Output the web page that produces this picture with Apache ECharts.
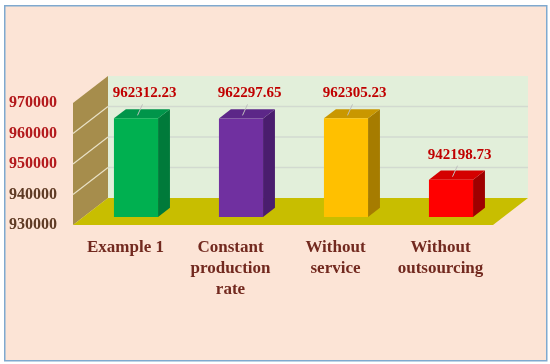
<!DOCTYPE html>
<html>
<head>
<meta charset="utf-8">
<script src="https://cdn.jsdelivr.net/npm/echarts@6/dist/echarts.min.js"></script>
<style>
html,body{margin:0;padding:0;background:#ffffff;}
#c{width:550px;height:364px;}
</style>
</head>
<body>
<div id="c"></div>
<script>
// ---- data ----
const categories = ['Example 1', 'Constant\nproduction\nrate', 'Without\nservice', 'Without\noutsourcing'];
const values = [962312.23, 962297.65, 962305.23, 942198.73];
const yTicks = [930000, 940000, 950000, 960000, 970000];

// ---- styles ----
const frontColors = ['#00B050', '#7030A0', '#FFC000', '#FF0000'];
const topColors   = ['#00954A', '#5C2788', '#C99700', '#D40000'];
const sideColors  = ['#007A3A', '#4A1D6E', '#A67C00', '#9E0000'];
const DEPTH = [35, -27];   // full floor depth (px)
const BAR_T0 = 0.3, BAR_T1 = 0.64;
const yMin = yTicks[0], yMax = yTicks[yTicks.length - 1];
const yStep = yTicks[1] - yTicks[0];

const chart = echarts.init(document.getElementById('c'), null, {renderer: 'canvas'});

function poly(points, fill, z2) {
  return {type: 'polygon', shape: {points: points}, style: {fill: fill, stroke: null}, z2: z2 || 0};
}

function renderWalls(params, api) {
  const cs = params.coordSys;
  const L = cs.x, R = cs.x + cs.width, T = cs.y, B = cs.y + cs.height;
  const dx = DEPTH[0], dy = DEPTH[1];
  const ch = [];
  // back wall
  ch.push(poly([[L + dx, T + dy], [R + dx, T + dy], [R + dx, B + dy], [L + dx, B + dy]], '#E2EFDA', 0));
  // side wall
  ch.push(poly([[L, B], [L, T], [L + dx, T + dy], [L + dx, B + dy]], '#A68D4C', 1));
  // floor
  ch.push(poly([[L, B], [L + dx, B + dy], [R + dx, B + dy], [R, B]], '#C8BE00', 2));
  // grid lines
  for (let k = 1; k < yTicks.length - 1; k++) {
    const y = api.coord([0, yTicks[k]])[1];
    ch.push({type: 'line', shape: {x1: L + dx, y1: y + dy, x2: R + dx, y2: y + dy},
      style: {stroke: '#D2DAD0', lineWidth: 1.5}, z2: 1});
    ch.push({type: 'line', shape: {x1: L, y1: y, x2: L + dx, y2: y + dy},
      style: {stroke: '#E9E1C6', lineWidth: 1.2}, z2: 3});
  }
  return {type: 'group', children: ch};
}

function renderBar(params, api) {
  const i = api.value(0), v = api.value(1);
  const topPt = api.coord([i, v]);
  const basePt = api.coord([i, yMin]);
  const band = api.size([1, 0])[0];
  const w = band * 0.42;
  const ox = DEPTH[0] * BAR_T0, oy = DEPTH[1] * BAR_T0;
  const ddx = DEPTH[0] * (BAR_T1 - BAR_T0), ddy = DEPTH[1] * (BAR_T1 - BAR_T0);
  const cx = topPt[0] + ox;
  const l = cx - w / 2, r = cx + w / 2;
  const t = topPt[1] + oy, b = basePt[1] + oy;
  const idx = params.dataIndex;
  const ch = [];
  ch.push(poly([[r, t], [r + ddx, t + ddy], [r + ddx, b + ddy], [r, b]], sideColors[idx], 10));
  ch.push(poly([[l, t], [r, t], [r + ddx, t + ddy], [l + ddx, t + ddy]], topColors[idx], 10));
  ch.push(poly([[l, t], [r, t], [r, b], [l, b]], frontColors[idx], 11));
  const lx = cx + 8.5, ly = t - 25;
  ch.push({type: 'line', shape: {x1: lx - 2, y1: ly + 11, x2: lx - 7, y2: ly + 22},
    style: {stroke: '#BFBFBF', lineWidth: 1}, z2: 12});
  ch.push({type: 'text', style: {text: v.toFixed(2), x: lx, y: ly, fill: '#C00000',
    font: 'bold 15px "Liberation Serif", "Times New Roman", serif', align: 'center', verticalAlign: 'middle'}, z2: 13});
  return {type: 'group', children: ch};
}

const option = {
  backgroundColor: '#ffffff',
  animation: false,
  graphic: [{
    type: 'rect', left: 4, top: 5, z: -10,
    shape: {width: 542, height: 355},
    style: {fill: '#FCE4D6', stroke: '#7FA9CF', lineWidth: 1.5}
  }],
  grid: {left: 73, right: 57, top: 103, bottom: 139, containLabel: false, outerBoundsMode: 'none'},
  xAxis: {
    type: 'category', data: categories,
    axisLine: {show: false}, axisTick: {show: false},
    axisLabel: {
      interval: 0, margin: 12, color: '#72291F',
      fontFamily: '"Liberation Serif", "Times New Roman", serif', fontWeight: 'bold',
      fontSize: 17, lineHeight: 21
    }
  },
  yAxis: {
    type: 'value', min: yMin, max: yMax, interval: yStep,
    axisLine: {show: false}, axisTick: {show: false}, splitLine: {show: false},
    axisLabel: {
      margin: 16,
      fontFamily: '"Liberation Serif", "Times New Roman", serif', fontWeight: 'bold', fontSize: 16,
      formatter: function (v) { return v >= 950000 ? '{r|' + v + '}' : '{d|' + v + '}'; },
      rich: {
        r: {color: '#B3191C', fontFamily: '"Liberation Serif", serif', fontWeight: 'bold', fontSize: 16},
        d: {color: '#5E3A24', fontFamily: '"Liberation Serif", serif', fontWeight: 'bold', fontSize: 16}
      }
    }
  },
  series: [
    {type: 'custom', renderItem: renderWalls, data: [[0, yMin]], z: 1, silent: true,
      encode: {x: 0, y: 1}, clip: false},
    {type: 'custom', renderItem: renderBar, data: values.map((v, i) => [i, v]), z: 2,
      encode: {x: 0, y: 1}, clip: false}
  ]
};
chart.setOption(option);
</script>
</body>
</html>
